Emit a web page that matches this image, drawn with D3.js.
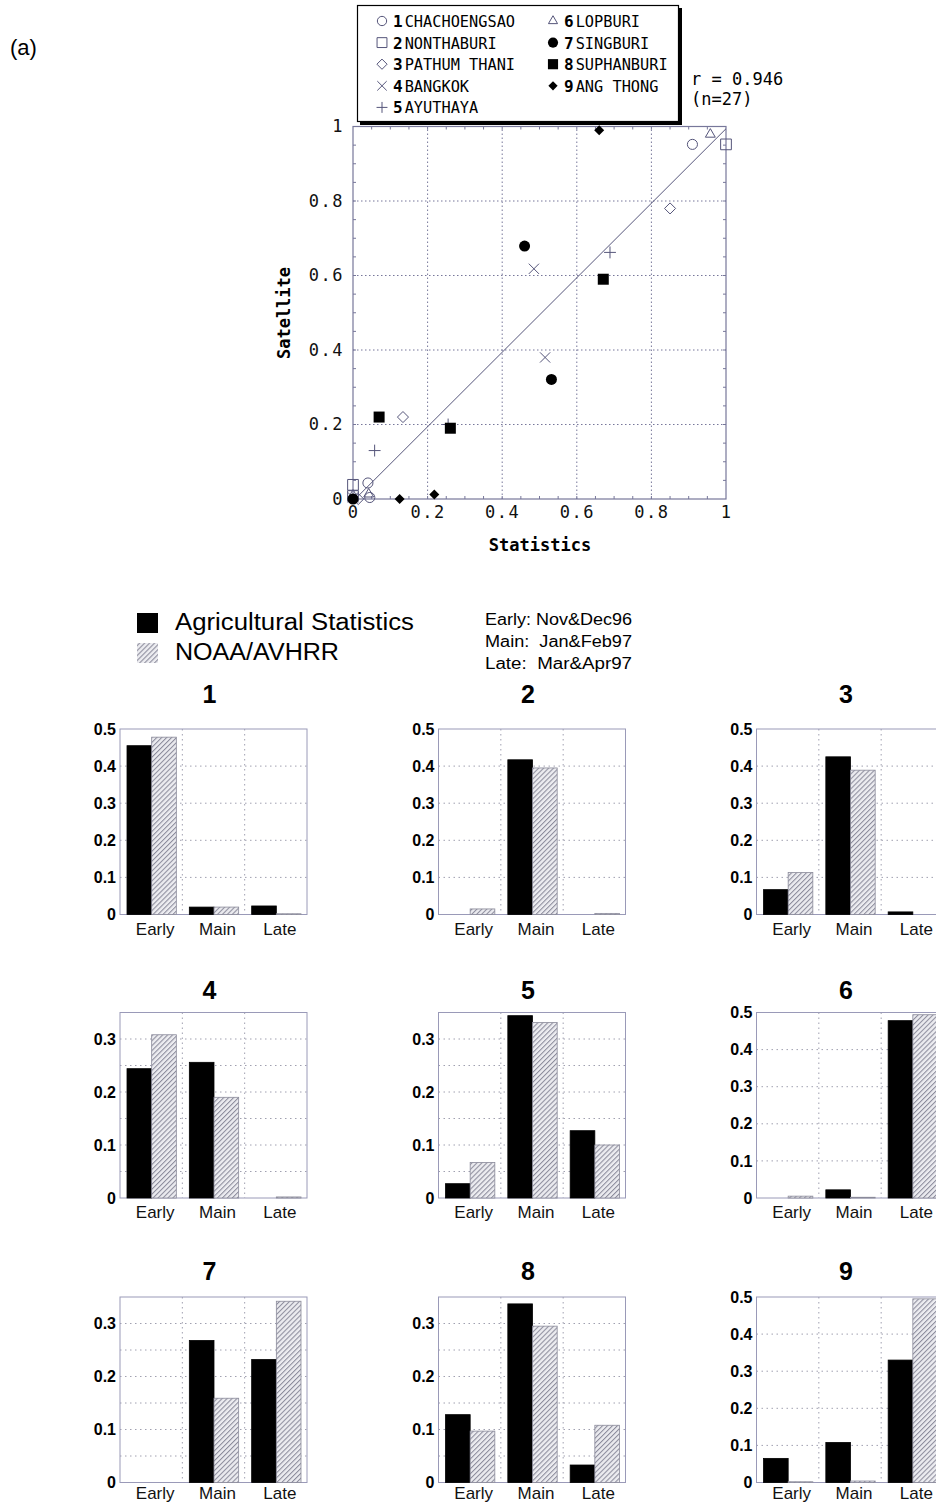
<!DOCTYPE html>
<html>
<head>
<meta charset="utf-8">
<script src="https://cdn.jsdelivr.net/npm/d3@7"></script>
<style>
  body { margin: 0; background: #fff; }
  svg { display: block; }
</style>
</head>
<body>
<div class="canvas"></div>
<script>
// ---- (a) scatter: share of each season, statistics vs satellite ----
var provinces = ["CHACHOENGSAO", "NONTHABURI", "PATHUM THANI", "BANGKOK", "AYUTHAYA",
                 "LOPBURI", "SINGBURI", "SUPHANBURI", "ANG THONG"];
// per province: [Early, Main, Late]
var statShare = [
    [0.91, 0.04, 0.045],
    [0.0, 1.0, 0.0],
    [0.134, 0.85, 0.014],
    [0.485, 0.515, 0.0],
    [0.058, 0.689, 0.255],
    [0.0, 0.042, 0.958],
    [0.0, 0.532, 0.46],
    [0.261, 0.671, 0.07],
    [0.125, 0.218, 0.66]
];
var satShare = [
    [0.952, 0.043, 0.004],
    [0.038, 0.952, 0.008],
    [0.22, 0.78, 0.0],
    [0.618, 0.38, 0.004],
    [0.13, 0.662, 0.2],
    [0.01, 0.013, 0.979],
    [0.0, 0.321, 0.679],
    [0.19, 0.59, 0.22],
    [0.0, 0.012, 0.99]
];
var fitX = [0.01, 1.0];
var fitY = [0.004, 0.994];
var scatterTicks = [0, 0.2, 0.4, 0.6, 0.8, 1];

// ---- (b) bars ----
var seasons = ["Early", "Main", "Late"];
var seriesNames = ["Agricultural Statistics", "NOAA/AVHRR"];
var seasonNotes = ["Early: Nov&Dec96", "Main:  Jan&Feb97", "Late:  Mar&Apr97"];
var agriStats = [
    [0.455, 0.02, 0.023],
    [0.0, 0.417, 0.0],
    [0.067, 0.425, 0.007],
    [0.244, 0.256, 0.0],
    [0.027, 0.344, 0.127],
    [0.0, 0.022, 0.478],
    [0.0, 0.268, 0.232],
    [0.128, 0.337, 0.033],
    [0.065, 0.108, 0.33]
];
var noaa = [
    [0.478, 0.02, 0.002],
    [0.015, 0.395, 0.003],
    [0.113, 0.389, 0.0],
    [0.308, 0.19, 0.002],
    [0.067, 0.331, 0.1],
    [0.005, 0.002, 0.494],
    [0.0, 0.159, 0.342],
    [0.097, 0.295, 0.108],
    [0.002, 0.004, 0.495]
];
var panelMax = [0.5, 0.5, 0.5, 0.35, 0.35, 0.5, 0.35, 0.35, 0.5];

var W = 936, H = 1504;
var axisCol = "#77779a";
var openCol = "#55557a";
var mono = "'DejaVu Sans Mono', 'Liberation Mono', monospace";
var sans = "'Liberation Sans', Arial, sans-serif";

var svg = d3.select("body").select(".canvas").append("svg")
    .attr("width", W)
    .attr("height", H);

svg.append("rect").attr("width", W).attr("height", H).attr("fill", "#fff");

// hatch pattern for the satellite bars
var defs = svg.append("defs");
var pat = defs.append("pattern")
    .attr("id", "hatch")
    .attr("patternUnits", "userSpaceOnUse")
    .attr("width", 3.5).attr("height", 3.5)
    .attr("patternTransform", "rotate(45)");
pat.append("rect").attr("width", 3.5).attr("height", 3.5).attr("fill", "#ececf0");
pat.append("line").attr("x1", 0.5).attr("y1", 0).attr("x2", 0.5).attr("y2", 3.5)
    .attr("stroke", "#8c8c9c").attr("stroke-width", 1.1);

svg.append("text")
    .attr("x", 10).attr("y", 55)
    .attr("font-family", sans).attr("font-size", 22)
    .text("(a)");

// ================= scatter =================
var sx = d3.scaleLinear().domain([0, 1]).range([353, 726]);
var sy = d3.scaleLinear().domain([0, 1]).range([499, 126.5]);

var sg = svg.append("g");

// grid
sg.selectAll(".vgrid").data([0.2, 0.4, 0.6, 0.8]).enter().append("line")
    .attr("x1", function (d) { return sx(d); }).attr("x2", function (d) { return sx(d); })
    .attr("y1", sy(0)).attr("y2", sy(1))
    .attr("stroke", axisCol).attr("stroke-dasharray", "1.5,2.5");
sg.selectAll(".hgrid").data([0.2, 0.4, 0.6, 0.8]).enter().append("line")
    .attr("y1", function (d) { return sy(d); }).attr("y2", function (d) { return sy(d); })
    .attr("x1", sx(0)).attr("x2", sx(1))
    .attr("stroke", axisCol).attr("stroke-dasharray", "1.5,2.5");

// minor ticks every 0.05 on all four sides
var minor = d3.range(0.05, 1, 0.05);
minor.forEach(function (v) {
    sg.append("line").attr("x1", sx(0)).attr("x2", sx(0) + 3).attr("y1", sy(v)).attr("y2", sy(v)).attr("stroke", axisCol);
    sg.append("line").attr("x1", sx(1)).attr("x2", sx(1) - 3).attr("y1", sy(v)).attr("y2", sy(v)).attr("stroke", axisCol);
    sg.append("line").attr("y1", sy(0)).attr("y2", sy(0) - 3).attr("x1", sx(v)).attr("x2", sx(v)).attr("stroke", axisCol);
    sg.append("line").attr("y1", sy(1)).attr("y2", sy(1) + 3).attr("x1", sx(v)).attr("x2", sx(v)).attr("stroke", axisCol);
});

sg.append("rect")
    .attr("x", sx(0)).attr("y", sy(1))
    .attr("width", sx(1) - sx(0)).attr("height", sy(0) - sy(1))
    .attr("fill", "none").attr("stroke", axisCol).attr("stroke-width", 1.2);

// axes (labels only)
var tickFmt = function (d) { return (d === 0 || d === 1) ? String(d) : d.toFixed(1); };
var yAx = sg.append("g")
    .attr("transform", "translate(" + sx(0) + ",0)")
    .call(d3.axisLeft(sy).tickValues(scatterTicks).tickSize(0).tickPadding(9).tickFormat(tickFmt));
var xAx = sg.append("g")
    .attr("transform", "translate(0," + sy(0) + ")")
    .call(d3.axisBottom(sx).tickValues(scatterTicks).tickSize(0).tickPadding(7).tickFormat(tickFmt));
[yAx, xAx].forEach(function (a) {
    a.select(".domain").remove();
    a.selectAll("text")
        .attr("font-family", mono).attr("font-size", 17)
        .attr("letter-spacing", "1.5px").attr("fill", "#111");
});

sg.append("text")
    .attr("transform", "translate(290,313) rotate(-90)")
    .attr("text-anchor", "middle")
    .attr("font-family", mono).attr("font-size", 17).attr("font-weight", "bold")
    .text("Satellite");
sg.append("text")
    .attr("x", 540).attr("y", 551)
    .attr("text-anchor", "middle")
    .attr("font-family", mono).attr("font-size", 17).attr("font-weight", "bold")
    .text("Statistics");

// regression line
sg.append("line")
    .attr("x1", sx(fitX[0])).attr("y1", sy(fitY[0]))
    .attr("x2", sx(fitX[1])).attr("y2", sy(fitY[1]))
    .attr("stroke", openCol).attr("stroke-width", 1);

var shapes = [d3.symbolCircle, d3.symbolSquare, d3.symbolDiamond2, d3.symbolTimes, d3.symbolPlus,
              d3.symbolTriangle2, d3.symbolCircle, d3.symbolSquare, d3.symbolDiamond2];
var shapeSize = [80, 115, 78, 70, 48, 70, 95, 121, 64];

function drawMarker(g, i, cx, cy, scale) {
    var filled = i >= 6;
    g.append("path")
        .attr("d", d3.symbol().type(shapes[i]).size(shapeSize[i] * scale)())
        .attr("transform", "translate(" + cx + "," + cy + ")")
        .attr("fill", filled ? "#000" : "none")
        .attr("stroke", filled ? "none" : openCol)
        .attr("stroke-width", 1);
}

provinces.forEach(function (name, i) {
    statShare[i].forEach(function (v, k) {
        drawMarker(sg, i, sx(v), sy(satShare[i][k]), 1);
    });
});

// legend box
var lg = svg.append("g");
lg.append("rect").attr("x", 360).attr("y", 8).attr("width", 322).attr("height", 117).attr("fill", "#000");
lg.append("rect").attr("x", 357.5).attr("y", 5.5).attr("width", 321).attr("height", 116)
    .attr("fill", "#fff").attr("stroke", "#000").attr("stroke-width", 1.2);

provinces.forEach(function (name, i) {
    var col = i < 5 ? 0 : 1, row = i < 5 ? i : i - 5;
    var mx = col === 0 ? 382 : 553;
    var cy = 21 + row * 21.6;
    drawMarker(lg, i, mx, cy, 0.85);
    var t = lg.append("text")
        .attr("x", mx + 11).attr("y", cy + 6)
        .attr("font-family", mono).attr("font-size", 16)
        .style("white-space", "pre");
    t.append("tspan").attr("font-weight", "bold").text(String(i + 1));
    t.append("tspan").attr("dx", 2)
        .attr("textLength", name.length * 9.2).attr("lengthAdjust", "spacingAndGlyphs")
        .text(name);
});

svg.append("text").attr("x", 691).attr("y", 85)
    .attr("font-family", mono).attr("font-size", 17).style("white-space", "pre")
    .text("r = 0.946");
svg.append("text").attr("x", 691).attr("y", 105)
    .attr("font-family", mono).attr("font-size", 17)
    .text("(n=27)");

// ================= bar legend =================
var bl = svg.append("g");
var seriesWidth = [239, 164];
seriesNames.forEach(function (n, i) {
    bl.append("rect").attr("x", 137).attr("y", 613 + i * 30).attr("width", 21).attr("height", 20)
        .attr("fill", i === 0 ? "#000" : "url(#hatch)");
    bl.append("text").attr("x", 175).attr("y", 630 + i * 30)
        .attr("font-family", sans).attr("font-size", 23)
        .attr("textLength", seriesWidth[i]).attr("lengthAdjust", "spacingAndGlyphs")
        .text(n);
});
seasonNotes.forEach(function (n, i) {
    bl.append("text").attr("x", 485).attr("y", 625 + i * 22)
        .attr("font-family", sans).attr("font-size", 16)
        .attr("textLength", 147).attr("lengthAdjust", "spacingAndGlyphs")
        .style("white-space", "pre")
        .text(n);
});

// ================= bar panels =================
var colLeft = [120, 438.5, 756.5];
var rowTop = [729, 1012.5, 1297];
var titleDy = [-26, -14, -17];
var catDy = [20, 20, 16.5];
var pw = 187, ph = 185.5;

panelMax.forEach(function (maxV, p) {
    var col = p % 3, row = Math.floor(p / 3);
    var g = svg.append("g")
        .attr("transform", "translate(" + colLeft[col] + "," + rowTop[row] + ")");

    var y = d3.scaleLinear().domain([0, maxV]).range([ph, 0]);
    var x = d3.scaleBand().domain(seasons).range([0, pw]);
    var xs = d3.scaleBand().domain([0, 1]).range([7, x.bandwidth() - 6]);

    var step = maxV < 0.4 ? 0.05 : 0.1;
    var grid = d3.range(step, maxV - 1e-6, step);
    g.selectAll(".hg").data(grid).enter().append("line")
        .attr("x1", 0).attr("x2", pw)
        .attr("y1", function (d) { return y(d); }).attr("y2", function (d) { return y(d); })
        .attr("stroke", "#a0a0b0").attr("stroke-dasharray", "1.5,3.5");
    g.selectAll(".vg").data(seasons.slice(1)).enter().append("line")
        .attr("x1", function (d) { return x(d); }).attr("x2", function (d) { return x(d); })
        .attr("y1", 0).attr("y2", ph)
        .attr("stroke", "#a0a0b0").attr("stroke-dasharray", "1.5,3.5");

    g.append("rect").attr("width", pw).attr("height", ph)
        .attr("fill", "none").attr("stroke", "#9a9ab8").attr("stroke-width", 1);

    var vals = [agriStats[p], noaa[p]];
    vals.forEach(function (arr, s) {
        var items = arr.map(function (v, k) { return { season: seasons[k], v: v }; })
            .filter(function (d) { return d.v > 0; });
        g.selectAll(".b" + s).data(items).enter()
            .append("rect")
            .attr("x", function (d) { return x(d.season) + xs(s); })
            .attr("y", function (d) { return y(d.v); })
            .attr("width", xs.bandwidth())
            .attr("height", function (d) { return ph - y(d.v); })
            .attr("fill", s === 0 ? "#000" : "url(#hatch)")
            .attr("stroke", s === 0 ? "#000" : "#8a8a9a")
            .attr("stroke-width", 0.8);
    });

    var yAxis = g.append("g")
        .call(d3.axisLeft(y).tickValues(d3.range(0, maxV + 1e-6, 0.1)).tickSize(0).tickPadding(4)
            .tickFormat(function (d) { return d === 0 ? "0" : d3.format(".1f")(d); }));
    yAxis.select(".domain").remove();
    yAxis.selectAll("text").attr("font-family", sans).attr("font-size", 16)
        .attr("font-weight", "bold").attr("fill", "#000");

    g.selectAll(".cat").data(seasons).enter().append("text")
        .attr("x", function (d) { return x(d) + x.bandwidth() / 2 + 4; })
        .attr("y", ph + catDy[row])
        .attr("text-anchor", "middle")
        .attr("font-family", sans).attr("font-size", 17).attr("fill", "#111")
        .text(function (d) { return d; });

    g.append("text")
        .attr("x", pw / 2 - 4).attr("y", titleDy[row])
        .attr("text-anchor", "middle")
        .attr("font-family", sans).attr("font-size", 25).attr("font-weight", "bold")
        .text(String(p + 1));
});
</script>
</body>
</html>
